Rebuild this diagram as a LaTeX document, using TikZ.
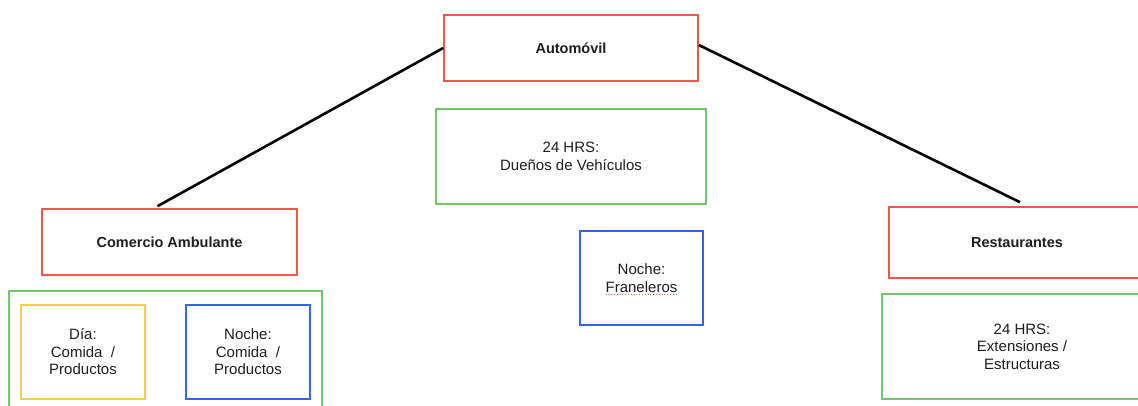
\documentclass[tikz,border=0pt]{standalone}
\usepackage{fontspec}
\setmainfont{Liberation Sans}
\usetikzlibrary{calc}
\definecolor{boxred}{RGB}{236,88,74}
\definecolor{boxgreen}{RGB}{110,200,105}
\definecolor{boxblue}{RGB}{50,100,240}
\definecolor{boxyellow}{RGB}{245,205,75}
\tikzset{
  card/.style={draw, line width=1.6pt, rectangle, inner sep=0pt, align=center,
    font=\fontsize{15}{17.5}\selectfont, text=black!88},
  head/.style={card, draw=boxred, font=\fontsize{14.5}{17}\selectfont\bfseries},
  grn/.style={card, draw=boxgreen},
  blu/.style={card, draw=boxblue},
  yel/.style={card, draw=boxyellow},
  link/.style={line width=2.6pt, black},
  squiggle/.style={boxred, line width=0.8pt, dotted}
}
\begin{document}
\begin{tikzpicture}[x=1pt,y=-1pt]
  \clip (0,0) rectangle (1138,406);
  \fill[white] (0,0) rectangle (1138,406);

  % top level
  \node[head, minimum width=254pt, minimum height=66pt] (aut) at (571,48) {Automóvil};
  \node[grn, minimum width=270pt, minimum height=95pt] (own) at (571,156.5) {24 HRS:\\Dueños de Vehículos};
  \node[blu, minimum width=123pt, minimum height=94pt] (fra) at (641.5,278) {Noche:\\Franeleros};
  \draw[squiggle] ($(fra.center)+(-36,16)$) -- ($(fra.center)+(35,16)$);

  % left branch
  \node[head, minimum width=255pt, minimum height=66pt] (com) at (169.5,242) {Comercio Ambulante};
  \node[grn, minimum width=313pt, minimum height=140pt] (cgrp) at (165.5,361) {};
  \node[yel, minimum width=124pt, minimum height=94pt] (dia) at (83,352) {Día:\\Comida\ \ /\\Productos};
  \node[blu, minimum width=124pt, minimum height=94pt] (noc) at (248,352) {Noche:\\Comida\ \ /\\Productos};

  % right branch
  \node[head, minimum width=256pt, minimum height=71pt] (res) at (1017,242.5) {Restaurantes};
  \node[grn, minimum width=280pt, minimum height=105pt] (ext) at (1022,346.5) {24 HRS:\\Extensiones /\\Estructuras};

  % connectors
  \draw[link] (aut.west) -- ($(com.north)+(-12,-2)$);
  \draw[link] ($(aut.east)+(0,-3)$) -- ($(res.north)+(3,-4)$);
\end{tikzpicture}
\end{document}
